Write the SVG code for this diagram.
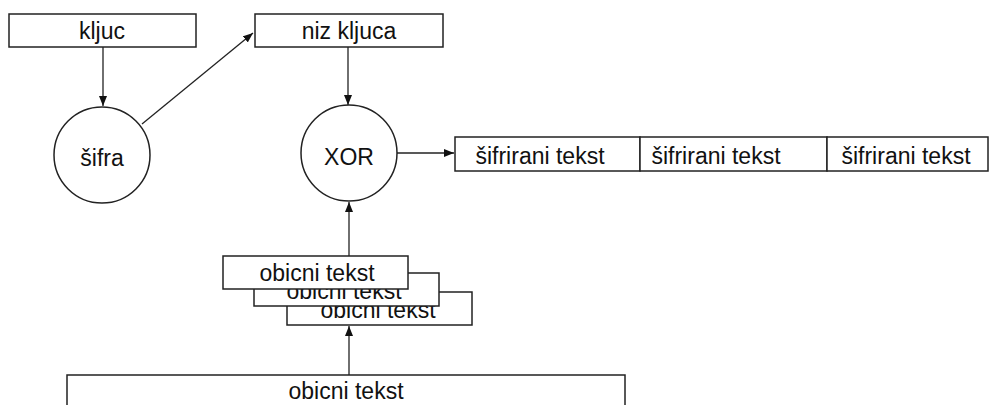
<svg xmlns="http://www.w3.org/2000/svg" width="1005" height="405" viewBox="0 0 1005 405">
<defs>
<style>
.b{fill:#fff;stroke:#222;stroke-width:1.5}
.t{font-family:"Liberation Sans",Arial,sans-serif;font-size:23px;fill:#111;text-anchor:middle}
.c{stroke:#222;stroke-width:1.3;fill:none;marker-end:url(#ah)}
</style>
<marker id="ah" viewBox="0 0 10 8" refX="10" refY="4" markerWidth="10" markerHeight="8" markerUnits="userSpaceOnUse" orient="auto">
<path d="M0,0 L10,4 L0,8 Z" fill="#111"/>
</marker>
</defs>
<rect width="1005" height="405" fill="#fff"/>
<g id="connectors">
<line class="c" x1="103" y1="47" x2="103" y2="106"/>
<line class="c" x1="142" y1="124" x2="253" y2="33"/>
<line class="c" x1="348" y1="47" x2="348" y2="105"/>
<line class="c" x1="397" y1="153" x2="454" y2="153"/>
<line class="c" x1="349" y1="256" x2="349" y2="202"/>
<line class="c" x1="349" y1="375" x2="349" y2="326"/>
</g>
<g id="kljuc"><rect class="b" x="9" y="14" width="187" height="33"/><text class="t" x="102" y="39">kljuc</text></g>
<g id="niz-kljuca"><rect class="b" x="255" y="14" width="188" height="33"/><text class="t" x="349" y="39">niz kljuca</text></g>
<g id="sifra"><circle class="b" cx="102" cy="155" r="48"/><text class="t" x="102" y="166">šifra</text></g>
<g id="xor"><circle class="b" cx="349" cy="153" r="48"/><text class="t" x="349" y="165">XOR</text></g>
<g id="sifrirani-tekst">
<rect class="b" x="455" y="137" width="185" height="34"/><text class="t" x="540" y="164">šifrirani tekst</text>
<rect class="b" x="640" y="137" width="187" height="34"/><text class="t" x="716" y="164">šifrirani tekst</text>
<rect class="b" x="827" y="137" width="161" height="34"/><text class="t" x="906" y="164">šifrirani tekst</text>
</g>
<g id="obicni-stack">
<rect class="b" x="287" y="292" width="185" height="33"/><text class="t" x="378" y="318">obicni tekst</text>
<rect class="b" x="254" y="273" width="185" height="33"/><text class="t" x="344" y="299">obicni tekst</text>
<rect class="b" x="223" y="256" width="185" height="33"/><text class="t" x="317" y="281">obicni tekst</text>
</g>
<g id="obicni-tekst"><rect class="b" x="67" y="375" width="558" height="40"/><text class="t" x="346" y="399">obicni tekst</text></g>
</svg>
